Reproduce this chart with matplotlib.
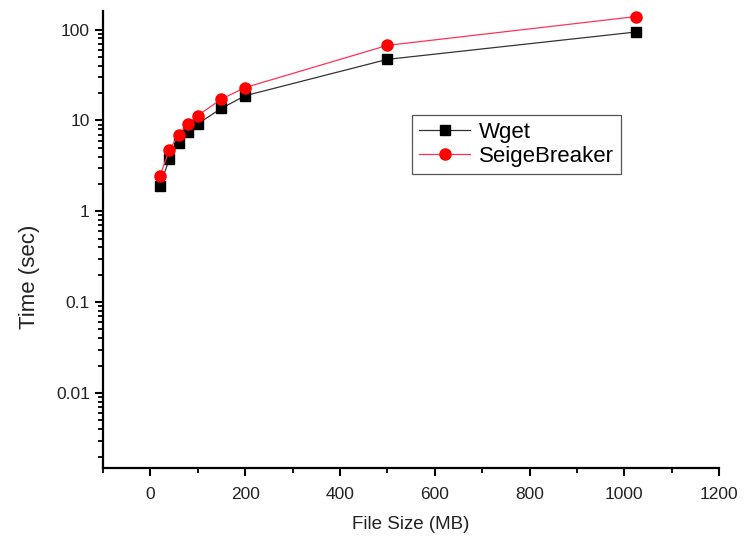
import matplotlib
matplotlib.use("Agg")
import matplotlib.pyplot as plt
from matplotlib.ticker import FixedLocator, FixedFormatter, LogLocator, MultipleLocator, NullFormatter

plt.rcParams['font.family'] = ['Liberation Sans', 'DejaVu Sans']

file_size = [20, 40, 60, 80, 100, 150, 200, 500, 1024]
wget = [1.9, 3.75, 5.7, 7.45, 9.2, 13.6, 18.7, 47, 94]
seige = [2.44, 4.7, 7.0, 9.2, 11.3, 17.2, 23, 67, 139]
y_ticks = [0.01, 0.1, 1, 10, 100]
y_tick_labels = ["0.01", "0.1", "1", "10", "100"]
x_ticks = [0, 200, 400, 600, 800, 1000, 1200]

fig = plt.figure(figsize=(7.46, 5.39), dpi=100)
ax = fig.add_axes([0.138, 0.132, 0.826, 0.848])

ax.plot(file_size, wget, color='#333333', lw=0.9, marker='s', ms=7,
        mfc='black', mec='black', label='Wget')
ax.plot(file_size, seige, color='#ff3355', lw=0.9, marker='o', ms=8,
        mfc='#ff0000', mec='#ff0000', label='SeigeBreaker')

ax.set_yscale('log')
ax.set_ylim(0.0015, 161)
ax.set_xlim(-100, 1200)

ax.yaxis.set_major_locator(FixedLocator(y_ticks))
ax.yaxis.set_major_formatter(FixedFormatter(y_tick_labels))
ax.yaxis.set_minor_locator(LogLocator(base=10, subs=[2, 3, 4, 5, 6, 7, 8, 9], numticks=20))
ax.yaxis.set_minor_formatter(NullFormatter())

ax.xaxis.set_major_locator(FixedLocator(x_ticks))
ax.xaxis.set_minor_locator(MultipleLocator(100))

for s in ['top', 'right']:
    ax.spines[s].set_visible(False)
for s in ['left', 'bottom']:
    ax.spines[s].set_linewidth(1.6)

ax.tick_params(which='major', direction='out', length=6, width=1.5, labelsize=12.5,
               colors='black', labelcolor='#222222')
ax.tick_params(axis='x', which='major', pad=8)
ax.tick_params(which='minor', direction='out', length=3.5, width=1.3)

ax.set_xlabel('File Size (MB)', fontsize=13.5, color='#222222', labelpad=10)
ax.set_ylabel('Time (sec)', fontsize=16, color='#222222')
ax.yaxis.set_label_coords(-0.102, 0.418)

leg = ax.legend(loc='upper left', bbox_to_anchor=(0.502, 0.772), fontsize=16,
                frameon=True, fancybox=False, edgecolor='#555555', framealpha=1,
                handlelength=2.3, borderpad=0.3, labelspacing=0.15, handletextpad=0.4,
                borderaxespad=0)
leg.get_frame().set_linewidth(0.9)

fig.savefig('out.png', dpi=100)
